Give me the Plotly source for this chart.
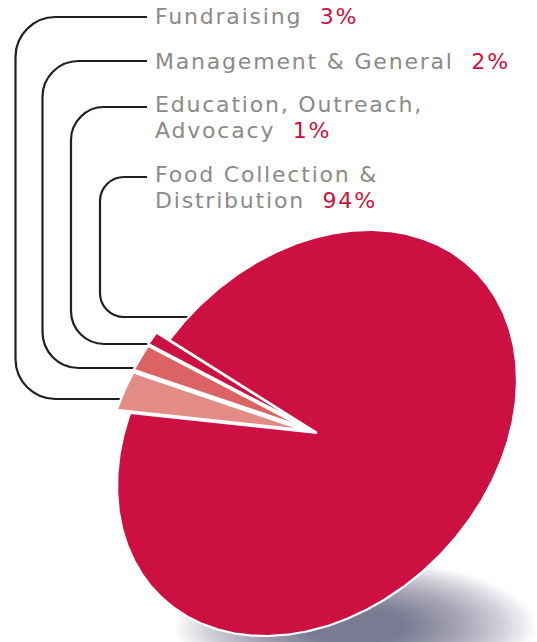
import numpy as np
import plotly.graph_objects as go

# ---------------- data ----------------
categories = ["Fundraising", "Management & General",
              "Education, Outreach, Advocacy", "Food Collection & Distribution"]
values = [3, 2, 1, 94]
pct_labels = ["3%", "2%", "1%", "94%"]
label_lines = [["Fundraising"], ["Management & General"],
               ["Education, Outreach,", "Advocacy"],
               ["Food Collection &", "Distribution"]]

# ---------------- style / layout ----------------
W, H = 537, 642
slice_colors = ["#E38B85", "#DB6363", "#CD1042", "#CD1042"]
pulls = [0.075, 0.08, 0.085, 0.0]
CRIMSON = "#CD1042"
GRAY = "#8A8A8A"
FONT = "DejaVu Sans"
FS = 22
LETTER_SP = "1.8px"

CX, CY = 317.0, 433.0                       # pie centre (pixels, y down)
TM = np.array([[198.2, -26.5], [-26.5, 201.3]])  # disc -> tilted ellipse
START_DEG = 193.2

fig = go.Figure()

# slices from values
total = float(sum(values))
ang = START_DEG
for name, v, col, pull in zip(categories, values, slice_colors, pulls):
    span = 360.0 * v / total
    a0, a1 = ang, ang + span
    ang = a1
    n = max(8, int(span * 2))
    ph = np.radians(np.linspace(a0, a1, n))
    mid = np.radians((a0 + a1) / 2)
    off = pull * np.array([np.cos(mid), np.sin(mid)])
    px = np.concatenate([[0.0], np.cos(ph), [0.0]]) + off[0]
    py = np.concatenate([[0.0], np.sin(ph), [0.0]]) + off[1]
    sx = TM[0, 0] * px + TM[0, 1] * py + CX
    sy = TM[1, 0] * px + TM[1, 1] * py + CY
    fig.add_trace(go.Scatter(
        x=sx, y=sy, mode="lines", fill="toself", fillcolor=col,
        line=dict(color="white", width=2.2), name=name,
        hoverinfo="text", text=f"{name}: {v}%", showlegend=False))

shapes = []
# soft shadow under the pie
SHX, SHY, SRX, SRY = 355, 626, 180, 66
NL = 36
for k in range(NL):
    s = 1.0 - k * (0.75 / NL)
    shapes.append(dict(type="circle", xref="x", yref="y",
                       x0=SHX - SRX * s, x1=SHX + SRX * s,
                       y0=SHY - SRY * s, y1=SHY + SRY * s,
                       fillcolor="rgba(60,63,72,0.025)", line=dict(width=0),
                       layer="below"))

# leader lines (layout)
leaders = [  # y_top, x_vert, y_bottom, x_end, radius
    (17, 15.5, 399, 126, 40),
    (61, 42.5, 368, 138, 36),
    (107, 71, 344, 150, 33),
    (177, 100, 317, 195, 24),
]
X_TXT_LINE = 147
k = 0.5523
for yt, xv, yb, xe, r in leaders:
    path = (f"M {X_TXT_LINE},{yt} L {xv + r},{yt} "
            f"C {xv + r - k * r},{yt} {xv},{yt + r - k * r} {xv},{yt + r} "
            f"L {xv},{yb - r} "
            f"C {xv},{yb - r + k * r} {xv + r - k * r},{yb} {xv + r},{yb} "
            f"L {xe},{yb}")
    shapes.append(dict(type="path", path=path, xref="x", yref="y",
                       line=dict(color="#231F20", width=2.2), layer="below"))

# labels
line_mid_y = [[16.5], [61], [104, 130], [174, 200]]
annotations = []
for lines, pct, ys in zip(label_lines, pct_labels, line_mid_y):
    for i, (t, y) in enumerate(zip(lines, ys)):
        txt = t
        if i == len(lines) - 1:
            txt = t + "\u00a0\u00a0" + f"<span style='color:{CRIMSON}'>{pct}</span>"
        txt = f"<span style='letter-spacing:{LETTER_SP}'>{txt}</span>"
        annotations.append(dict(x=153, y=y, xref="x", yref="y", text=txt,
                                showarrow=False, xanchor="left", yanchor="middle",
                                font=dict(family=FONT, size=FS, color=GRAY)))

fig.update_layout(
    width=W, height=H, margin=dict(l=0, r=0, t=0, b=0),
    paper_bgcolor="white", plot_bgcolor="white",
    xaxis=dict(range=[0, W], visible=False, fixedrange=True),
    yaxis=dict(range=[H, 0], visible=False, fixedrange=True),
    shapes=shapes, annotations=annotations, showlegend=False,
)

fig.write_html("out.html", config={"displayModeBar": False},
               post_script="document.body.style.margin='0';document.body.style.overflow='hidden';")
